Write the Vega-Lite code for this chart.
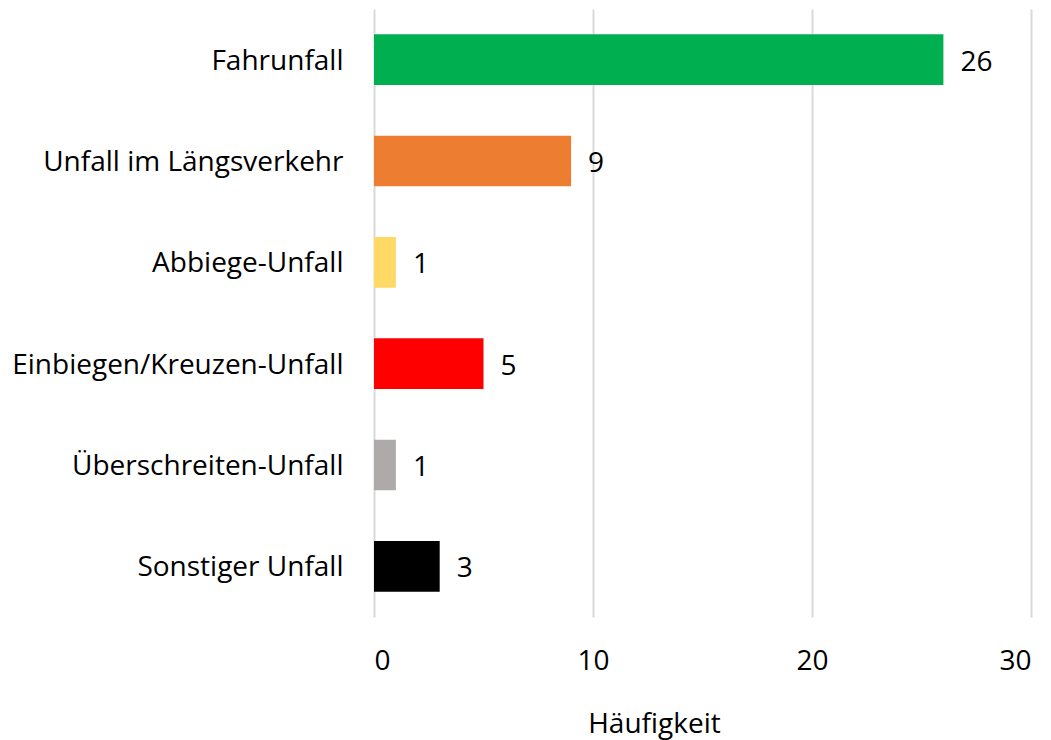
{
  "$schema": "https://vega.github.io/schema/vega-lite/v6.json",
  "autosize": {"type": "none"},
  "width": 657,
  "height": 608,
  "padding": {"left": 374, "top": 9, "right": 20, "bottom": 123},
  "background": "white",
  "config": {"view": {"stroke": null}, "font": "Open Sans"},
  "data": {
    "values": [
      {"kategorie": "Fahrunfall", "wert": 26, "farbe": "#00B050"},
      {"kategorie": "Unfall im Längsverkehr", "wert": 9, "farbe": "#ED7D31"},
      {"kategorie": "Abbiege-Unfall", "wert": 1, "farbe": "#FFD966"},
      {"kategorie": "Einbiegen/Kreuzen-Unfall", "wert": 5, "farbe": "#FF0000"},
      {"kategorie": "Überschreiten-Unfall", "wert": 1, "farbe": "#AEAAAA"},
      {"kategorie": "Sonstiger Unfall", "wert": 3, "farbe": "#000000"}
    ]
  },
  "encoding": {
    "y": {
      "field": "kategorie",
      "type": "nominal",
      "sort": null,
      "scale": {"paddingInner": 0.5, "paddingOuter": 0.25},
      "axis": {
        "title": null,
        "domain": false,
        "ticks": false,
        "labelFontSize": 28,
        "labelColor": "#000000",
        "labelPadding": 31,
        "labelOffset": 2,
        "labelFont": "Open Sans",
        "labelLimit": 400
      }
    },
    "x": {
      "field": "wert",
      "type": "quantitative",
      "scale": {"domain": [0, 30], "nice": false},
      "axis": {
        "title": "Häufigkeit",
        "values": [0, 10, 20, 30],
        "domain": false,
        "ticks": false,
        "grid": true,
        "gridColor": "#D9D9D9",
        "gridWidth": 2,
        "labelFontSize": 28,
        "labelColor": "#000000",
        "labelPadding": 30,
        "labelFont": "Open Sans",
        "titleFont": "Open Sans",
        "titleFontSize": 28,
        "titleFontWeight": "normal",
        "titleColor": "#000000",
        "titleBaseline": "middle",
        "titleX": 280,
        "titleY": 107
      }
    }
  },
  "layer": [
    {
      "mark": {"type": "bar"},
      "encoding": {
        "color": {"field": "farbe", "type": "nominal", "scale": null, "legend": null}
      }
    },
    {
      "mark": {"type": "text", "align": "left", "baseline": "middle", "dx": 17, "dy": 3, "fontSize": 28, "font": "Open Sans", "color": "#000000"},
      "encoding": {"text": {"field": "wert", "type": "quantitative"}}
    }
  ]
}
